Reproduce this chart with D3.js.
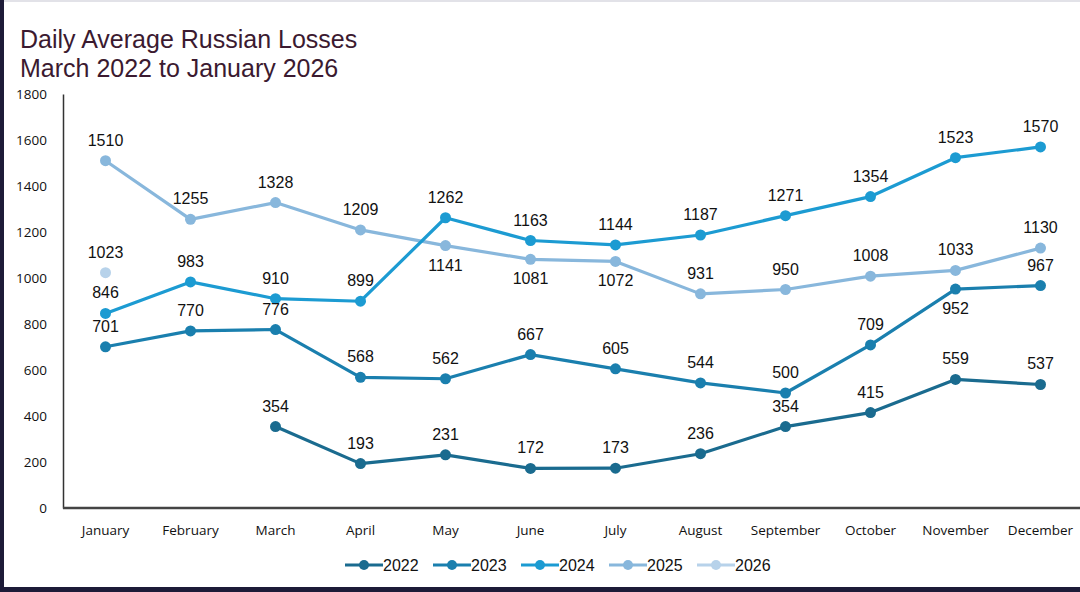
<!DOCTYPE html>
<html>
<head>
<meta charset="utf-8">
<script src="https://cdn.jsdelivr.net/npm/d3@7"></script>
<style>
  html, body { margin: 0; padding: 0; background: #fff; }
  svg { display: block; }
  .tick text { font-family: "Open Sans", sans-serif; font-size: 13.5px; fill: #111; }
  .lbl { font-family: "Liberation Sans", Arial, sans-serif; font-size: 16px; fill: #111; }
</style>
</head>
<body>
<div id="chart"></div>
<script>
var width = 1080,
    height = 592;

var months = ["January", "February", "March", "April", "May", "June",
              "July", "August", "September", "October", "November", "December"];
var yTicks = [0, 200, 400, 600, 800, 1000, 1200, 1400, 1600, 1800];

var years = ["2022", "2023", "2024", "2025", "2026"];
var colors = ["#1a6b8f", "#1a7fae", "#1c9bd2", "#88b7dc", "#b7d2ea"];

var v2022 = [null, null, 354, 193, 231, 172, 173, 236, 354, 415, 559, 537];
var v2023 = [701, 770, 776, 568, 562, 667, 605, 544, 500, 709, 952, 967];
var v2024 = [846, 983, 910, 899, 1262, 1163, 1144, 1187, 1271, 1354, 1523, 1570];
var v2025 = [1510, 1255, 1328, 1209, 1141, 1081, 1072, 931, 950, 1008, 1033, 1130];
var v2026 = [1023];

// labels that sit under their point instead of above
var below = { "2025": ["May", "June", "July"], "2023": ["November"] };

var series = [v2022, v2023, v2024, v2025, v2026].map(function(vals, i) {
  return {
    year: years[i],
    color: colors[i],
    points: vals.map(function(v, j) { return { month: months[j], value: v }; })
                .filter(function(p) { return p.value != null; })
  };
});

var plotLeft = 63, plotRight = 1083, plotTop = 94, plotBottom = 508;

var x = d3.scaleBand().domain(months).range([plotLeft, plotRight]);
var y = d3.scaleLinear().domain([0, 1800]).range([plotBottom, plotTop]);

var svg = d3.select("#chart").append("svg")
  .attr("width", width)
  .attr("height", height);

// frame of the screenshot
svg.append("rect").attr("x", 0).attr("y", 0).attr("width", width).attr("height", 2).attr("fill", "#e2e2e8");
svg.append("rect").attr("x", 0).attr("y", 0).attr("width", 4).attr("height", height).attr("fill", "#1d1b38");
svg.append("rect").attr("x", 0).attr("y", 587).attr("width", width).attr("height", 5).attr("fill", "#1d1b38");

var title = svg.append("text")
  .attr("font-family", "Liberation Sans, Arial, sans-serif")
  .attr("font-size", 25)
  .attr("fill", "#3b1a30");
title.append("tspan").attr("x", 20).attr("y", 48).text("Daily Average Russian Losses");
title.append("tspan").attr("x", 20).attr("y", 77).text("March 2022 to January 2026");

// axes
var yAxis = svg.append("g")
  .attr("transform", "translate(" + plotLeft + ",0)")
  .call(d3.axisLeft(y).tickValues(yTicks).tickFormat(d3.format("d")).tickSize(0).tickPadding(16));
yAxis.select(".domain").attr("stroke", "#333").attr("stroke-width", 1.5);

var xAxis = svg.append("g")
  .attr("transform", "translate(0," + plotBottom + ")")
  .call(d3.axisBottom(x).tickSize(0).tickPadding(17));
xAxis.select(".domain").attr("stroke", "#444").attr("stroke-width", 2.5)
  .attr("d", "M" + plotLeft + ",0H1080");

var cx = function(d) { return x(d.month) + x.bandwidth() / 2; };
var line = d3.line().x(cx).y(function(d) { return y(d.value); });

var g = svg.selectAll(".series")
  .data(series.slice().reverse())
  .enter().append("g")
  .attr("class", "series");

g.append("path")
  .attr("fill", "none")
  .attr("stroke", function(d) { return d.color; })
  .attr("stroke-width", 3.2)
  .attr("stroke-linejoin", "round")
  .attr("d", function(d) { return line(d.points); });

g.selectAll("circle")
  .data(function(d) { return d.points.map(function(p) { return { p: p, s: d }; }); })
  .enter().append("circle")
  .attr("cx", function(d) { return cx(d.p); })
  .attr("cy", function(d) { return y(d.p.value); })
  .attr("r", 5.5)
  .attr("fill", function(d) { return d.s.color; });

g.selectAll(".lbl")
  .data(function(d) { return d.points.map(function(p) { return { p: p, s: d }; }); })
  .enter().append("text")
  .attr("class", "lbl")
  .attr("text-anchor", "middle")
  .attr("x", function(d) { return cx(d.p); })
  .attr("y", function(d) {
    var under = (below[d.s.year] || []).indexOf(d.p.month) >= 0;
    return y(d.p.value) + (under ? 25 : -15);
  })
  .text(function(d) { return d.p.value; });

// legend
var legend = svg.append("g").attr("transform", "translate(345,565)");
var item = legend.selectAll("g")
  .data(series)
  .enter().append("g")
  .attr("transform", function(d, i) { return "translate(" + (i * 88) + ",0)"; });
item.append("line")
  .attr("x1", 0).attr("x2", 38)
  .attr("stroke", function(d) { return d.color; })
  .attr("stroke-width", 3.2);
item.append("circle")
  .attr("cx", 19).attr("r", 5)
  .attr("fill", function(d) { return d.color; });
item.append("text")
  .attr("x", 38).attr("y", 6)
  .attr("font-family", "Liberation Sans, Arial, sans-serif")
  .attr("font-size", 16)
  .attr("fill", "#111")
  .text(function(d) { return d.year; });
</script>
</body>
</html>
